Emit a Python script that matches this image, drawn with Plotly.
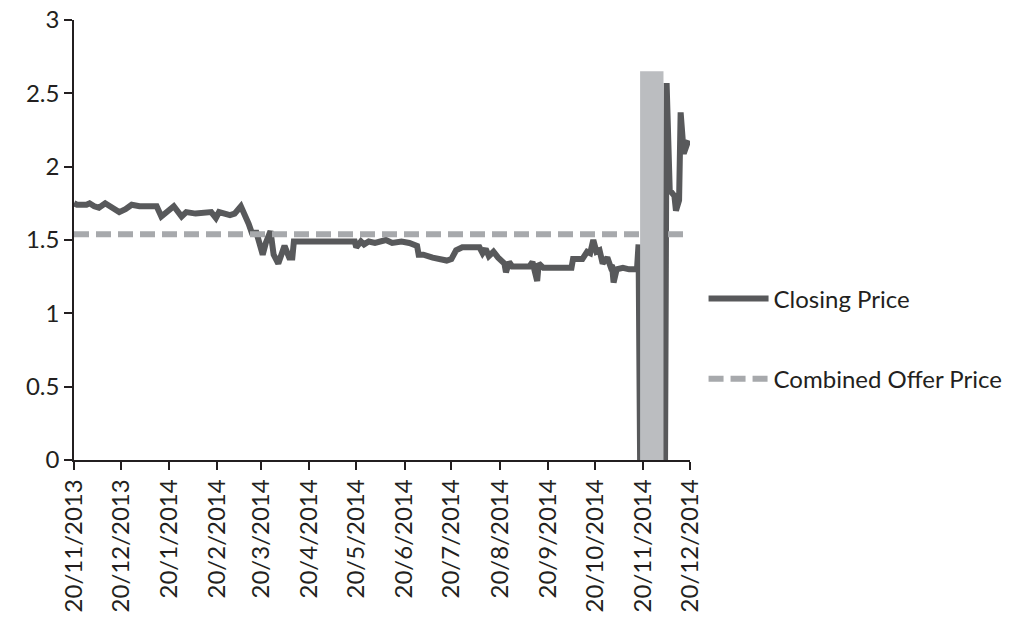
import plotly.graph_objects as go

# ---------------- data ----------------
close_dates = [
    "2013-11-20", "2013-11-22", "2013-11-28", "2013-11-30", "2013-12-03", "2013-12-06",
    "2013-12-10", "2013-12-14", "2013-12-19", "2013-12-23", "2013-12-27", "2014-01-01",
    "2014-01-12", "2014-01-15", "2014-01-18", "2014-01-23", "2014-01-28", "2014-01-31",
    "2014-02-06", "2014-02-12", "2014-02-16", "2014-02-19", "2014-02-21", "2014-02-28",
    "2014-03-03", "2014-03-07", "2014-03-10", "2014-03-12", "2014-03-14", "2014-03-17",
    "2014-03-21", "2014-03-23", "2014-03-26", "2014-03-28", "2014-03-31", "2014-04-04",
    "2014-04-07", "2014-04-09", "2014-04-10", "2014-05-19", "2014-05-20", "2014-05-23",
    "2014-05-25", "2014-05-28", "2014-06-01", "2014-06-08", "2014-06-12", "2014-06-18",
    "2014-06-23", "2014-06-28", "2014-06-29", "2014-07-02", "2014-07-08", "2014-07-12",
    "2014-07-17", "2014-07-20", "2014-07-23", "2014-07-27", "2014-08-07", "2014-08-09",
    "2014-08-11", "2014-08-13", "2014-08-16", "2014-08-19", "2014-08-23", "2014-08-24",
    "2014-08-26", "2014-08-28", "2014-09-08", "2014-09-10", "2014-09-13", "2014-09-14",
    "2014-09-17", "2014-10-05", "2014-10-06", "2014-10-12", "2014-10-15", "2014-10-17",
    "2014-10-19", "2014-10-21", "2014-10-23", "2014-10-25", "2014-10-28", "2014-10-30",
    "2014-10-31", "2014-11-01", "2014-11-03", "2014-11-07", "2014-11-11", "2014-11-16",
    "2014-11-17", "2014-11-18", "2014-12-04", "2014-12-05", "2014-12-07", "2014-12-10",
    "2014-12-11", "2014-12-13", "2014-12-14", "2014-12-16", "2014-12-19",
]
close_values = [
    1.75, 1.74, 1.74, 1.75, 1.73, 1.72,
    1.75, 1.72, 1.69, 1.71, 1.74, 1.73,
    1.73, 1.66, 1.69, 1.73, 1.66, 1.69,
    1.68, 1.69, 1.69, 1.65, 1.69, 1.67,
    1.68, 1.73, 1.67, 1.61, 1.55, 1.55,
    1.40, 1.48, 1.56, 1.40, 1.34, 1.46,
    1.38, 1.38, 1.49, 1.49, 1.45, 1.49,
    1.47, 1.49, 1.48, 1.50, 1.48, 1.49,
    1.48, 1.46, 1.40, 1.40, 1.38, 1.37,
    1.36, 1.37, 1.43, 1.45, 1.45, 1.41,
    1.44, 1.39, 1.42, 1.38, 1.34, 1.28,
    1.35, 1.32, 1.32, 1.35, 1.22, 1.34,
    1.31, 1.31, 1.37, 1.37, 1.42, 1.41,
    1.50, 1.42, 1.43, 1.34, 1.38, 1.32,
    1.33, 1.21, 1.30, 1.31, 1.30, 1.30,
    1.47, 0.0, 0.0, 2.57, 1.84, 1.80,
    1.70, 1.77, 2.37, 2.09, 2.18,
]

offer_dates = ["2013-11-20", "2014-12-20"]
offer_values = [1.54, 1.54]

suspension_start = "2014-11-18"
suspension_end = "2014-12-03"
suspension_height = 2.65

tick_dates = [
    "2013-11-20", "2013-12-20", "2014-01-20", "2014-02-20", "2014-03-20", "2014-04-20",
    "2014-05-20", "2014-06-20", "2014-07-20", "2014-08-20", "2014-09-20", "2014-10-20",
    "2014-11-20", "2014-12-20",
]
tick_labels = [
    "20/11/2013", "20/12/2013", "20/1/2014", "20/2/2014", "20/3/2014", "20/4/2014",
    "20/5/2014", "20/6/2014", "20/7/2014", "20/8/2014", "20/9/2014", "20/10/2014",
    "20/11/2014", "20/12/2014",
]

# ---------------- figure ----------------
DARK = "#58595B"
LIGHT = "#A7A9AC"
TEXT = "#231F20"
FONT = "Lato"

fig = go.Figure()
fig.add_trace(go.Scatter(
    x=close_dates, y=close_values, mode="lines", name="Closing Price",
    line=dict(color=DARK, width=6), legendgroup="a",
))
fig.add_trace(go.Scatter(
    x=offer_dates, y=offer_values, mode="lines", name="Combined Offer Price",
    line=dict(color=LIGHT, width=6, dash="15px,7px"), legendgroup="b",
))

fig.add_shape(
    type="rect", xref="x", yref="y",
    x0=suspension_start, x1=suspension_end, y0=0, y1=suspension_height,
    fillcolor="#BBBDC0", line=dict(width=0), layer="above",
)

fig.update_layout(
    width=1028, height=619,
    margin=dict(l=74, r=338, t=20, b=159, autoexpand=False),
    paper_bgcolor="white", plot_bgcolor="white",
    font=dict(family=FONT, size=24, color=TEXT),
    showlegend=True,
    legend=dict(
        x=1.022, xanchor="left", y=0.417, yanchor="top",
        traceorder="grouped", tracegroupgap=46, itemwidth=60,
        font=dict(family=FONT, size=24, color=TEXT),
        bgcolor="rgba(0,0,0,0)",
    ),
    xaxis=dict(
        type="date", automargin=False,
        range=["2013-11-20", "2014-12-20"],
        tickmode="array", tickvals=tick_dates, ticktext=tick_labels,
        tickangle=-90,
        showgrid=False, zeroline=False,
        showline=True, linecolor=TEXT, linewidth=1.5,
        ticks="outside", ticklen=8, tickwidth=1.5, tickcolor=TEXT,
        tickfont=dict(family=FONT, size=24, color=TEXT),
    ),
    yaxis=dict(
        automargin=False,
        range=[0, 3], dtick=0.5, tick0=0,
        showgrid=False, zeroline=False,
        showline=True, linecolor=TEXT, linewidth=1.5,
        ticks="outside", ticklen=8, tickwidth=1.5, tickcolor=TEXT,
        tickfont=dict(family=FONT, size=24, color=TEXT),
    ),
)

fig.write_html(
    "out.html",
    config={"displayModeBar": False},
    post_script="document.body.style.margin='0';",
)
